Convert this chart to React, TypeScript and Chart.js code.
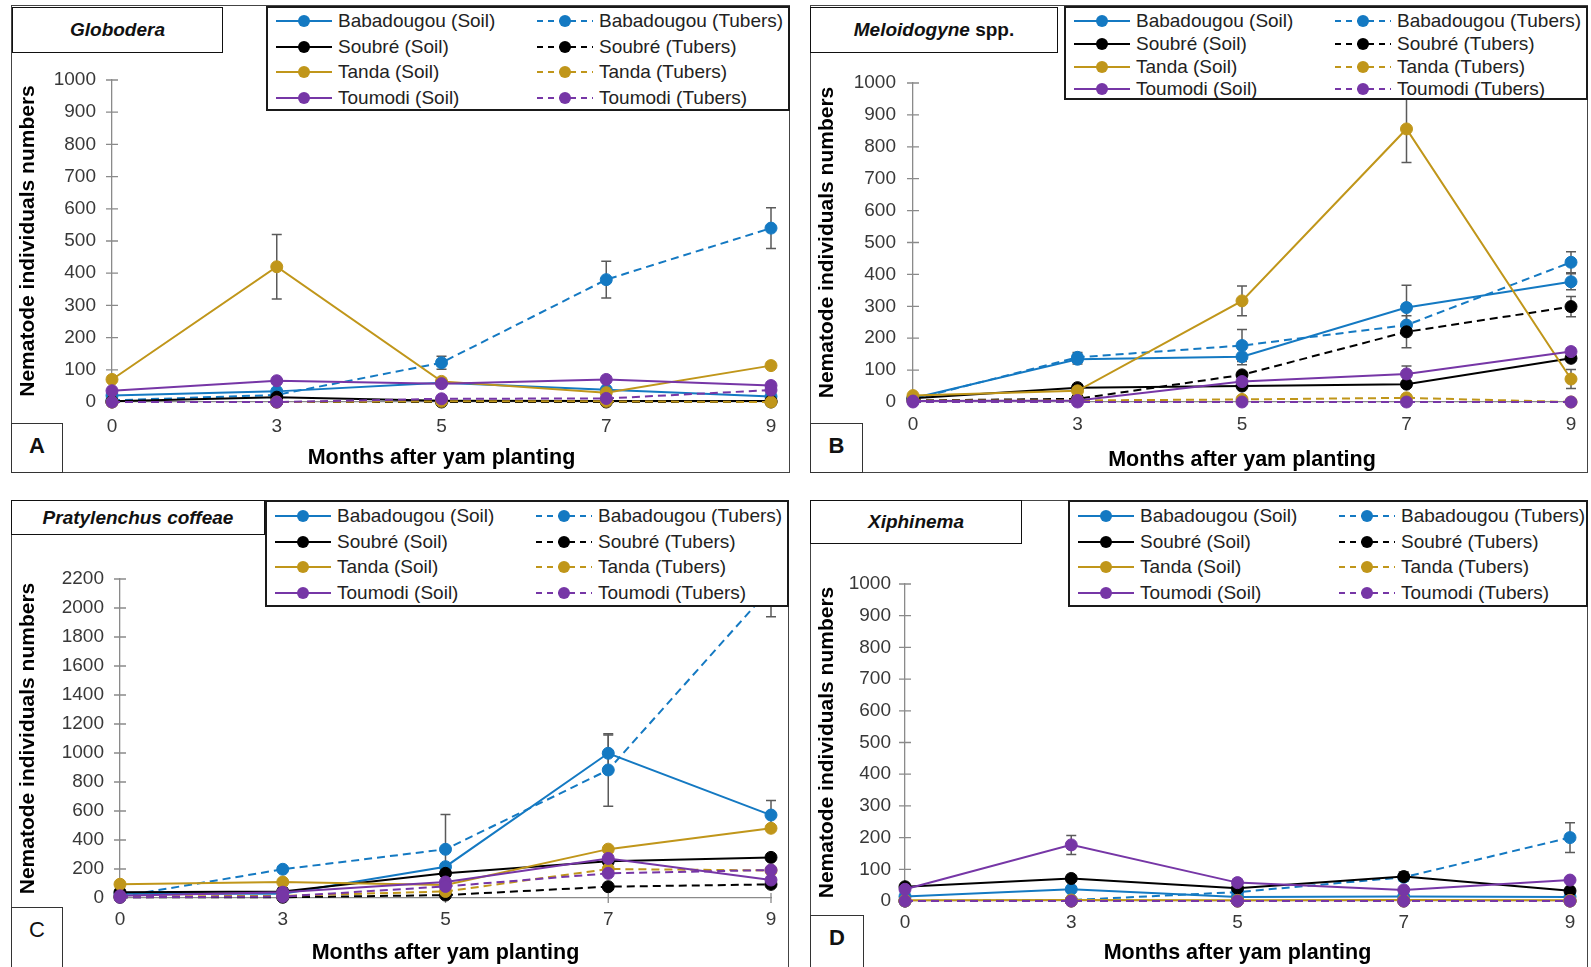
import React, { useEffect, useRef } from "react";
import { Chart, registerables } from "chart.js";

Chart.register(...registerables);

// ---------------- data ----------------
const months = ["0", "3", "5", "7", "9"];
const sites = ["Babadougou", "Soubré", "Tanda", "Toumodi"];
const siteColors = ["#1479c2", "#000000", "#c0961a", "#7636a6"];

// A - Globodera
const globoBabadougouSoil = [20, 33, 60, 38, 17];
const globoBabadougouTubers = [5, 22, 122, 380, 540];
const globoSoubreSoil = [2, 15, 4, 3, 3];
const globoSoubreTubers = [0, 0, 0, 0, 0];
const globoTandaSoil = [70, 420, 64, 29, 113];
const globoTandaTubers = [0, 0, 2, 2, 0];
const globoToumodiSoil = [35, 66, 57, 70, 51];
const globoToumodiTubers = [0, 0, 10, 11, 37];
const globoErrBabadougouTubers = [0, 0, 20, 57, 63];
const globoErrTandaSoil = [0, 100, 0, 0, 0];

// B - Meloidogyne spp.
const meloBabadougouSoil = [12, 134, 142, 296, 377];
const meloBabadougouTubers = [8, 140, 177, 241, 438];
const meloSoubreSoil = [12, 45, 50, 56, 137];
const meloSoubreTubers = [5, 10, 85, 220, 299];
const meloTandaSoil = [20, 35, 317, 856, 72];
const meloTandaTubers = [5, 5, 8, 13, 0];
const meloToumodiSoil = [3, 5, 64, 88, 158];
const meloToumodiTubers = [0, 0, 0, 0, 0];
const meloErrBabadougouSoil = [0, 15, 25, 70, 25];
const meloErrBabadougouTubers = [0, 15, 50, 0, 33];
const meloErrSoubreTubers = [0, 0, 10, 50, 32];
const meloErrTandaSoil = [0, 0, 47, 105, 30];
const meloErrToumodiSoil = [0, 0, 0, 25, 10];

// C - Pratylenchus coffeae
const pratyBabadougouSoil = [30, 30, 216, 998, 572];
const pratyBabadougouTubers = [10, 198, 336, 883, 2140];
const pratySoubreSoil = [40, 45, 170, 253, 280];
const pratySoubreTubers = [5, 5, 20, 78, 94];
const pratyTandaSoil = [95, 110, 90, 337, 481];
const pratyTandaTubers = [10, 15, 45, 200, 190];
const pratyToumodiSoil = [15, 40, 110, 273, 124];
const pratyToumodiTubers = [5, 10, 80, 170, 193];
const pratyErrBabadougouSoil = [0, 0, 0, 126, 100];
const pratyErrBabadougouTubers = [0, 0, 240, 250, 200];

// D - Xiphinema
const xiphBabadougouSoil = [14, 37, 13, 14, 13];
const xiphBabadougouTubers = [0, 3, 28, 75, 200];
const xiphSoubreSoil = [45, 71, 40, 77, 32];
const xiphSoubreTubers = [0, 0, 0, 0, 0];
const xiphTandaSoil = [2, 3, 2, 3, 2];
const xiphTandaTubers = [0, 0, 0, 0, 0];
const xiphToumodiSoil = [37, 177, 58, 35, 66];
const xiphToumodiTubers = [0, 0, 0, 0, 0];
const xiphErrBabadougouTubers = [0, 0, 0, 0, 47];
const xiphErrSoubreSoil = [0, 0, 0, 15, 0];
const xiphErrToumodiSoil = [0, 30, 0, 0, 0];

const yTitle = "Nematode individuals numbers";
const xTitle = "Months after yam planting";

// ---------------- helpers ----------------
type Series = { label: string; color: string; dashed: boolean; data: number[]; err: number[] | null };

function buildSeries(soil: number[][], tubers: number[][], soilErr: (number[] | null)[], tubErr: (number[] | null)[]): Series[] {
  const out: Series[] = [];
  for (let i = 0; i < 4; i++) {
    out.push({ label: `${sites[i]} (Soil)`, color: siteColors[i], dashed: false, data: soil[i], err: soilErr[i] });
    out.push({ label: `${sites[i]} (Tubers)`, color: siteColors[i], dashed: true, data: tubers[i], err: tubErr[i] });
  }
  return out;
}

const FONT = "Liberation Sans, Arial, sans-serif";
const AXIS_COLOR = "#8a8a8a";
const TICK_COLOR = "#383838";
const X_TITLE_SIZE = 21.5;
const Y_TITLE_SIZE = 21;

const crossTicks = {
  id: "crossTicks",
  beforeDatasetsDraw(chart: any) {
    const { x, y } = chart.scales;
    const ctx = chart.ctx;
    ctx.save();
    ctx.strokeStyle = AXIS_COLOR;
    ctx.lineWidth = 1.3;
    ctx.beginPath();
    y.ticks.forEach((_: any, i: number) => {
      const py = y.getPixelForTick(i);
      ctx.moveTo(y.right - 6, py);
      ctx.lineTo(y.right + 6, py);
    });
    x.ticks.forEach((_: any, i: number) => {
      const px = x.getPixelForTick(i);
      ctx.moveTo(px, x.top - 5);
      ctx.lineTo(px, x.top + 5);
    });
    ctx.stroke();
    ctx.restore();
  },
};

const errorBars = {
  id: "errorBars",
  beforeDatasetsDraw(chart: any) {
    const ctx = chart.ctx;
    const ys = chart.scales.y;
    chart.data.datasets.forEach((ds: any, i: number) => {
      const errs = ds.errorBars as number[] | null;
      if (!errs) return;
      const meta = chart.getDatasetMeta(i);
      meta.data.forEach((pt: any, j: number) => {
        const e = errs[j];
        if (!e) return;
        const v = ds.data[j];
        const px = pt.x;
        const top = ys.getPixelForValue(v + e);
        const bot = ys.getPixelForValue(v - e);
        ctx.save();
        ctx.strokeStyle = "#5a5a5a";
        ctx.lineWidth = 1.5;
        ctx.beginPath();
        ctx.moveTo(px, top);
        ctx.lineTo(px, bot);
        ctx.moveTo(px - 5, top);
        ctx.lineTo(px + 5, top);
        ctx.moveTo(px - 5, bot);
        ctx.lineTo(px + 5, bot);
        ctx.stroke();
        ctx.restore();
      });
    });
  },
};

// ---------------- panel layout ----------------
const panels = [
  {
    key: "A",
    title: <i>Globodera</i>,
    series: buildSeries(
      [globoBabadougouSoil, globoSoubreSoil, globoTandaSoil, globoToumodiSoil],
      [globoBabadougouTubers, globoSoubreTubers, globoTandaTubers, globoToumodiTubers],
      [null, null, globoErrTandaSoil, null],
      [globoErrBabadougouTubers, null, null, null]
    ),
    yMax: 1000, yStep: 100,
    box: { left: 11, top: 5, width: 779, height: 468 },
    area: { left: 101, right: 760, top: 75, bottom: 397 },
    yTitleX: 17, xTitleY: 453, xTickY: 422, yTickGap: 16,
    titleBox: { x: 1, y: 2, w: 211, h: 46 },
    labelBox: { x: 0, y: 418, w: 52, h: 50, bold: true },
    legendBox: { x: 255, y: 1, w: 524, h: 105, row0: 15, gap: 25.7 },
  },
  {
    key: "B",
    title: <><i>Meloidogyne</i> spp.</>,
    series: buildSeries(
      [meloBabadougouSoil, meloSoubreSoil, meloTandaSoil, meloToumodiSoil],
      [meloBabadougouTubers, meloSoubreTubers, meloTandaTubers, meloToumodiTubers],
      [meloErrBabadougouSoil, null, meloErrTandaSoil, meloErrToumodiSoil],
      [meloErrBabadougouTubers, meloErrSoubreTubers, null, null]
    ),
    yMax: 1000, yStep: 100,
    box: { left: 810, top: 5, width: 778, height: 468 },
    area: { left: 103, right: 761, top: 78, bottom: 397 },
    yTitleX: 17, xTitleY: 455, xTickY: 420, yTickGap: 17,
    titleBox: { x: 0, y: 2, w: 248, h: 46 },
    labelBox: { x: 0, y: 418, w: 53, h: 50, bold: true },
    legendBox: { x: 254, y: 1, w: 524, h: 94, row0: 15, gap: 22.8 },
  },
  {
    key: "C",
    title: <i>Pratylenchus coffeae</i>,
    series: buildSeries(
      [pratyBabadougouSoil, pratySoubreSoil, pratyTandaSoil, pratyToumodiSoil],
      [pratyBabadougouTubers, pratySoubreTubers, pratyTandaTubers, pratyToumodiTubers],
      [pratyErrBabadougouSoil, null, null, null],
      [pratyErrBabadougouTubers, null, null, null]
    ),
    yMax: 2200, yStep: 200,
    box: { left: 11, top: 500, width: 778, height: 468 },
    area: { left: 109, right: 760, top: 79, bottom: 398 },
    yTitleX: 17, xTitleY: 453, xTickY: 420, yTickGap: 16,
    titleBox: { x: 0, y: 0, w: 254, h: 35 },
    labelBox: { x: 0, y: 407, w: 52, h: 61, bold: false },
    legendBox: { x: 254, y: 0, w: 524, h: 107, row0: 16, gap: 25.6 },
  },
  {
    key: "D",
    title: <i>Xiphinema</i>,
    series: buildSeries(
      [xiphBabadougouSoil, xiphSoubreSoil, xiphTandaSoil, xiphToumodiSoil],
      [xiphBabadougouTubers, xiphSoubreTubers, xiphTandaTubers, xiphToumodiTubers],
      [null, xiphErrSoubreSoil, null, xiphErrToumodiSoil],
      [xiphErrBabadougouTubers, null, null, null]
    ),
    yMax: 1000, yStep: 100,
    box: { left: 810, top: 500, width: 778, height: 468 },
    area: { left: 95, right: 760, top: 84, bottom: 401 },
    yTitleX: 17, xTitleY: 453, xTickY: 423, yTickGap: 14,
    titleBox: { x: 0, y: 0, w: 212, h: 44 },
    labelBox: { x: 0, y: 415, w: 54, h: 53, bold: true },
    legendBox: { x: 258, y: 0, w: 520, h: 107, row0: 16, gap: 25.7 },
  },
];

function Swatch({ color, dashed }: { color: string; dashed: boolean }) {
  return (
    <svg width={56} height={14} style={{ display: "block" }}>
      <line x1={0} y1={7} x2={56} y2={7} stroke={color} strokeWidth={2} strokeDasharray={dashed ? "6 5" : undefined} />
      <circle cx={28} cy={7} r={6} fill={color} />
    </svg>
  );
}

function Panel({ p }: { p: any }) {
  const ref = useRef<HTMLCanvasElement>(null);
  useEffect(() => {
    const canvas = ref.current!;
    const { width, height } = p.box;
    const a = p.area;
    const xTitleHalf = (X_TITLE_SIZE * 1.2) / 2;
    const yTitleHalf = (Y_TITLE_SIZE * 1.2) / 2;
    const hx = p.xTitleY - a.bottom + xTitleHalf;
    const chart = new Chart(canvas, {
      type: "line",
      data: {
        labels: months,
        datasets: p.series.map((s: Series, i: number) => ({
          label: s.label,
          data: s.data,
          errorBars: s.err,
          borderColor: s.color,
          backgroundColor: s.color,
          pointBackgroundColor: s.color,
          pointBorderColor: s.color,
          pointRadius: 6,
          pointBorderWidth: 1,
          borderWidth: 2,
          borderDash: s.dashed ? [8, 5] : [],
          tension: 0,
          fill: false,
          clip: false,
          order: p.series.length - i,
        })) as any,
      },
      options: {
        animation: false,
        responsive: false,
        devicePixelRatio: 1,
        layout: {
          padding: { left: 0, right: width - a.right, top: a.top, bottom: height - a.bottom - hx },
        },
        plugins: { legend: { display: false }, tooltip: { enabled: false } },
        scales: {
          x: {
            type: "category",
            offset: false,
            grid: { display: false, drawTicks: false },
            border: { display: true, color: AXIS_COLOR, width: 1.3 },
            ticks: {
              color: TICK_COLOR,
              font: { family: FONT, size: 19 },
              padding: p.xTickY - a.bottom - 11.4,
              autoSkip: false,
              maxRotation: 0,
            },
            title: { display: true, text: xTitle, color: "#000", font: { family: FONT, size: X_TITLE_SIZE, weight: "bold" }, padding: 0 },
            afterFit: (s: any) => {
              s.height = hx;
              s.paddingLeft = 0;
              s.paddingRight = 0;
            },
          },
          y: {
            min: 0,
            max: p.yMax,
            grid: { display: false, drawTicks: false },
            border: { display: true, color: AXIS_COLOR, width: 1.3 },
            ticks: {
              stepSize: p.yStep,
              autoSkip: false,
              color: TICK_COLOR,
              font: { family: FONT, size: 19 },
              padding: p.yTickGap,
              callback: (v: any) => String(v),
            },
            title: {
              display: true,
              text: yTitle,
              color: "#000",
              font: { family: FONT, size: Y_TITLE_SIZE, weight: "bold" },
              padding: { top: p.yTitleX - yTitleHalf, bottom: 0 },
            },
            afterFit: (s: any) => {
              s.width = a.left;
              s.paddingTop = 0;
              s.paddingBottom = 0;
            },
          },
        },
      } as any,
      plugins: [crossTicks, errorBars],
    });
    return () => chart.destroy();
  }, [p]);

  const { box, titleBox: tb, labelBox: lb, legendBox: gb } = p;
  const soil = p.series.filter((s: Series) => !s.dashed);
  const tub = p.series.filter((s: Series) => s.dashed);
  return (
    <div style={{ position: "absolute", left: box.left, top: box.top, width: box.width, height: box.height }}>
      <canvas ref={ref} width={box.width} height={box.height} style={{ position: "absolute", left: 0, top: 0, width: box.width, height: box.height }} />
      <div style={{ position: "absolute", left: 0, top: 0, width: box.width, height: box.height, border: "1.5px solid #444", boxSizing: "border-box", pointerEvents: "none" }} />
      <div
        style={{
          position: "absolute", left: tb.x, top: tb.y, width: tb.w, height: tb.h, border: "1.5px solid #111",
          boxSizing: "border-box", background: "#fff", display: "flex", alignItems: "center", justifyContent: "center",
          fontFamily: FONT, fontSize: 19, fontWeight: "bold", color: "#111",
        }}
      >
        <span>{p.title}</span>
      </div>
      <div
        style={{
          position: "absolute", left: lb.x, top: lb.y, width: lb.w, height: lb.h, border: "1.5px solid #333",
          boxSizing: "border-box", background: "#fff", textAlign: "center", lineHeight: "44px",
          fontFamily: FONT, fontSize: 22, fontWeight: lb.bold ? "bold" : "normal", color: "#111",
        }}
      >
        {p.key}
      </div>
      <div
        style={{
          position: "absolute", left: gb.x, top: gb.y, width: gb.w, height: gb.h, border: "2px solid #1a1a1a",
          boxSizing: "border-box", background: "#fff", fontFamily: FONT, fontSize: 19, color: "#222",
        }}
      >
        {[soil, tub].map((col: Series[], c: number) =>
          col.map((s: Series, r: number) => (
            <div
              key={s.label}
              style={{
                position: "absolute", left: (c === 0 ? 10 : 271) - 2, top: gb.row0 + r * gb.gap - 11 - 2, height: 22,
                display: "flex", alignItems: "center", whiteSpace: "nowrap", lineHeight: "22px",
              }}
            >
              <Swatch color={s.color} dashed={s.dashed} />
              <span style={{ marginLeft: 6 }}>{s.label}</span>
            </div>
          ))
        )}
      </div>
    </div>
  );
}

export default function App() {
  return (
    <div style={{ position: "absolute", left: 0, top: 0, width: 1591, height: 967, overflow: "hidden", background: "#fff" }}>
      {panels.map((p) => (
        <Panel key={p.key} p={p} />
      ))}
    </div>
  );
}
